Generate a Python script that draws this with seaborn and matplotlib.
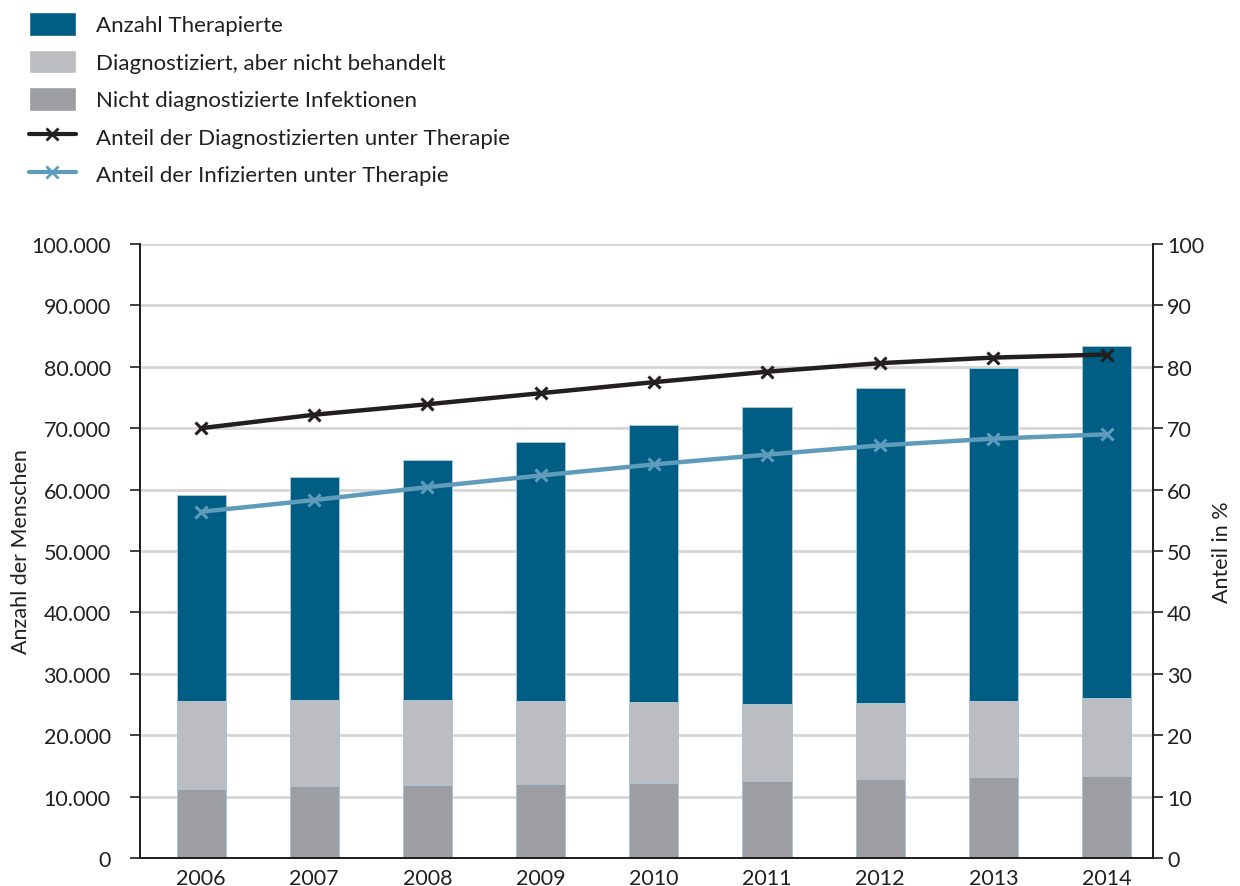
import numpy as np
import pandas as pd
import seaborn as sns
import matplotlib.pyplot as plt
from matplotlib.patches import Patch
from matplotlib.lines import Line2D

# values
years = ['2006', '2007', '2008', '2009', '2010', '2011', '2012', '2013', '2014']
therapiert = [33700, 36400, 39200, 42200, 45200, 48300, 51200, 54300, 57400]
diag_nicht_behandelt = [14200, 14000, 13800, 13500, 13200, 12500, 12400, 12300, 12600]
nicht_diagnostiziert = [11300, 11700, 11900, 12100, 12200, 12600, 12900, 13200, 13400]
anteil_diagnostizierte = [70.0, 72.2, 73.9, 75.7, 77.5, 79.2, 80.6, 81.5, 82.0]
anteil_infizierte = [56.4, 58.3, 60.4, 62.3, 64.1, 65.7, 67.2, 68.3, 69.0]

labels = ['Anzahl Therapierte', 'Diagnostiziert, aber nicht behandelt',
          'Nicht diagnostizierte Infektionen',
          'Anteil der Diagnostizierten unter Therapie',
          'Anteil der Infizierten unter Therapie']
c_blue, c_lgrey, c_dgrey = '#005e84', '#bbbdc0', '#9d9ea2'
c_black, c_lblue = '#231f20', '#5f9bbb'
txt = '#231f20'

sns.set_style('white')
plt.rcParams['font.family'] = ['Lato', 'DejaVu Sans']

df = pd.DataFrame({'Jahr': years,
                   'undiag': nicht_diagnostiziert,
                   'diag': diag_nicht_behandelt,
                   'ther': therapiert})
df['lvl1'] = df['undiag']
df['lvl2'] = df['undiag'] + df['diag']
df['lvl3'] = df['lvl2'] + df['ther']

fig = plt.figure(figsize=(12.4, 8.87), dpi=100)
ax = fig.add_axes([140 / 1240, 28 / 887, (1153 - 140) / 1240, (859 - 245) / 887])

edge = '#a9c6d6'
for col, color in [('lvl3', c_blue), ('lvl2', c_lgrey), ('lvl1', c_dgrey)]:
    sns.barplot(data=df, x='Jahr', y=col, color=color, width=0.435,
                edgecolor=edge, linewidth=0.7, saturation=1, ax=ax, zorder=2)

ax.set_ylim(0, 100000)
ax.set_xlim(-0.54, 8.41)
ax.set_yticks(np.arange(0, 100001, 10000))
ax.set_yticklabels([f'{int(v):,}'.replace(',', '.') for v in np.arange(0, 100001, 10000)])
ax.yaxis.grid(True, color='#d6d6d6', linewidth=2.0, zorder=0)
ax.set_axisbelow(True)
ax.set_xlabel('')
ax.set_ylabel('Anzahl der Menschen', fontsize=15.5, color=txt)
ax.yaxis.set_label_coords(-0.108, 0.5)
ax.tick_params(axis='y', length=7, width=1.2, color=txt, labelsize=15.5,
               labelcolor=txt, left=True, pad=14)
ax.tick_params(axis='x', length=0, labelsize=15.5, labelcolor=txt, pad=7)
for s in ['left', 'bottom', 'right']:
    ax.spines[s].set_color(txt)
    ax.spines[s].set_linewidth(1.3)
ax.spines['top'].set_visible(False)

ax2 = ax.twinx()
xpos = np.arange(len(years))
for vals, color in [(anteil_diagnostizierte, c_black), (anteil_infizierte, c_lblue)]:
    sns.lineplot(x=xpos, y=vals, color=color, linewidth=3.2,
                 marker='x', markersize=9, markeredgewidth=2.2,
                 markeredgecolor=color, ax=ax2, zorder=5)
ax2.set_ylim(0, 100)
ax2.set_xlim(-0.54, 8.41)
ax2.set_yticks(np.arange(0, 101, 10))
ax2.set_ylabel('Anteil in %', fontsize=15.5, color=txt, rotation=90)
ax2.yaxis.set_label_coords(1.058, 0.5)
ax2.tick_params(axis='y', length=7, width=1.2, color=txt, labelsize=15.5,
                labelcolor=txt, right=True, pad=3)
for s in ['left', 'bottom', 'right']:
    ax2.spines[s].set_color(txt)
    ax2.spines[s].set_linewidth(1.3)
ax2.spines['top'].set_visible(False)
ax2.grid(False)

handles = [Patch(facecolor=c_blue), Patch(facecolor=c_lgrey), Patch(facecolor=c_dgrey),
           Line2D([], [], color=c_black, lw=3, marker='x', ms=8, mew=2),
           Line2D([], [], color=c_lblue, lw=3, marker='x', ms=8, mew=2)]
fig.legend(handles, labels, loc='upper left', bbox_to_anchor=(29 / 1240, 1 - 13 / 887),
           frameon=False, fontsize=16, handlelength=2.1, handleheight=1.25,
           labelspacing=0.63, handletextpad=0.9, borderpad=0, borderaxespad=0,
           labelcolor=txt)

fig.savefig('out.png', dpi=100)
